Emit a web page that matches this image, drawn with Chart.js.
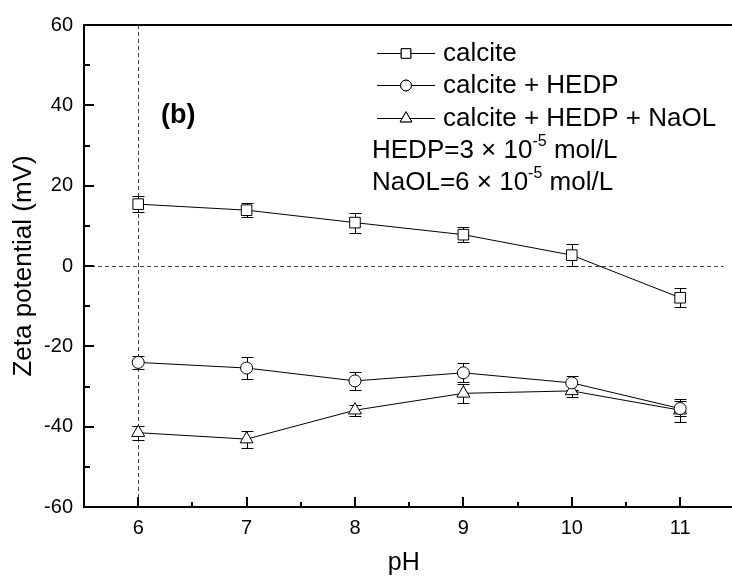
<!DOCTYPE html>
<html>
<head>
<meta charset="utf-8">
<title>Zeta potential vs pH</title>
<script src="https://cdn.jsdelivr.net/npm/chart.js@4.4.1/dist/chart.umd.min.js"></script>
<style>
  html, body { margin: 0; padding: 0; background: #fff; }
  canvas { display: block; }
</style>
</head>
<body>
<canvas id="zetaChart" width="732" height="579"></canvas>
<script>
// values
const phValues = [6, 7, 8, 9, 10, 11];
const calcite = [15.4, 13.9, 10.8, 7.8, 2.7, -7.9];
const calciteErr = [2.0, 1.7, 2.5, 1.8, 2.7, 2.4];
const calciteHedp = [-24.0, -25.4, -28.6, -26.6, -29.1, -35.5];
const calciteHedpErr = [1.7, 2.7, 2.3, 2.4, 1.7, 1.9];
const calciteHedpNaol = [-41.5, -43.1, -35.9, -31.7, -31.1, -35.9];
const calciteHedpNaolErr = [1.7, 2.1, 1.4, 2.3, 1.6, 2.9];

const seriesNames = ["calcite", "calcite + HEDP", "calcite + HEDP + NaOL"];
const pointShapes = ["rect", "circle", "triangle"];
const pointSizes = [7.5, 6, 7.5];
const phTicks = [6, 7, 8, 9, 10, 11];
const zetaTicks = [-60, -40, -20, 0, 20, 40, 60];

const FONT = "'Liberation Sans', Arial, Helvetica, sans-serif";
const errorSets = [calciteErr, calciteHedpErr, calciteHedpNaolErr];

function makeSet(name, values, i) {
  return {
    label: name,
    data: values.map((v, j) => ({ x: phValues[j], y: v })),
    showLine: true,
    borderColor: "#000",
    borderWidth: 1,
    pointStyle: pointShapes[i],
    pointRadius: pointSizes[i],
    pointHoverRadius: pointSizes[i],
    pointBackgroundColor: "#fff",
    pointBorderColor: "#000",
    pointBorderWidth: 1
  };
}

// dashed guides + error bars under the markers, frame/ticks/legend on top
const extras = {
  id: "extras",
  beforeDatasetsDraw(chart) {
    const { ctx, chartArea: a, scales: { x, y } } = chart;
    ctx.save();
    ctx.strokeStyle = "#444";
    ctx.lineWidth = 1;
    ctx.setLineDash([4, 3]);
    const y0 = Math.round(y.getPixelForValue(0)) + 0.5;
    const x6 = Math.round(x.getPixelForValue(phTicks[0])) + 0.5;
    ctx.beginPath();
    ctx.moveTo(a.left, y0); ctx.lineTo(a.right, y0);
    ctx.moveTo(x6, a.top); ctx.lineTo(x6, a.bottom);
    ctx.stroke();
    ctx.setLineDash([]);

    ctx.strokeStyle = "#000";
    chart.data.datasets.forEach((ds, i) => {
      const errs = errorSets[i];
      ds.data.forEach((p, j) => {
        const px = Math.round(x.getPixelForValue(p.x)) + 0.5;
        const top = Math.round(y.getPixelForValue(p.y + errs[j])) + 0.5;
        const bot = Math.round(y.getPixelForValue(p.y - errs[j])) + 0.5;
        ctx.beginPath();
        ctx.moveTo(px, top); ctx.lineTo(px, bot);
        ctx.moveTo(px - 6, top); ctx.lineTo(px + 6, top);
        ctx.moveTo(px - 6, bot); ctx.lineTo(px + 6, bot);
        ctx.stroke();
      });
    });
    ctx.restore();
  },
  afterDraw(chart) {
    const { ctx, chartArea: a, scales: { x, y } } = chart;
    ctx.save();
    ctx.strokeStyle = "#000";
    ctx.lineWidth = 2;
    ctx.beginPath();
    ctx.moveTo(chart.width, a.top); ctx.lineTo(a.left, a.top);
    ctx.lineTo(a.left, a.bottom); ctx.lineTo(chart.width, a.bottom);
    ctx.stroke();

    // inward ticks
    ctx.beginPath();
    for (let v = x.min; v <= x.max + 1e-9; v += 0.5) {
      const px = Math.round(x.getPixelForValue(v));
      if (px <= a.left + 1) continue;
      const len = Number.isInteger(v) ? 10 : 5;
      ctx.moveTo(px, a.bottom); ctx.lineTo(px, a.bottom - len);
    }
    for (let v = y.min; v <= y.max; v += 10) {
      const py = Math.round(y.getPixelForValue(v));
      const len = v % 20 === 0 ? 10 : 6;
      ctx.moveTo(a.left, py); ctx.lineTo(a.left + len, py);
    }
    ctx.stroke();

    // legend
    ctx.lineWidth = 1;
    ctx.fillStyle = "#000";
    ctx.font = "26px " + FONT;
    ctx.textBaseline = "middle";
    const rows = [53, 85, 118];
    chart.data.datasets.forEach((ds, i) => {
      const ry = rows[i] + 0.5;
      ctx.beginPath();
      ctx.moveTo(377, ry); ctx.lineTo(435, ry);
      ctx.stroke();
      ctx.fillStyle = "#fff";
      Chart.helpers.drawPoint(ctx, {
        pointStyle: ds.pointStyle, radius: ds.pointRadius * 0.9, rotation: 0, borderWidth: 1
      }, 406, ry);
      ctx.fill();
      ctx.stroke();
      ctx.fillStyle = "#000";
      ctx.fillText(ds.label, 443, rows[i] + 1);
    });

    // concentration notes with superscript exponent
    const notes = [["HEDP=3 \u00d7 10", "-5", " mol/L", 151], ["NaOL=6 \u00d7 10", "-5", " mol/L", 183]];
    notes.forEach(([a1, sup, a2, ny]) => {
      let tx = 372;
      ctx.font = "26px " + FONT;
      ctx.fillText(a1, tx, ny);
      tx += ctx.measureText(a1).width;
      ctx.font = "16px " + FONT;
      ctx.fillText(sup, tx, ny - 9);
      tx += ctx.measureText(sup).width;
      ctx.font = "26px " + FONT;
      ctx.fillText(a2, tx, ny);
    });

    ctx.font = "bold 27px " + FONT;
    ctx.fillText("(b)", 161, 116);
    ctx.restore();
  }
};

new Chart(document.getElementById("zetaChart"), {
  type: "scatter",
  data: {
    datasets: [
      makeSet(seriesNames[0], calcite, 0),
      makeSet(seriesNames[1], calciteHedp, 1),
      makeSet(seriesNames[2], calciteHedpNaol, 2)
    ]
  },
  options: {
    responsive: false,
    devicePixelRatio: 1,
    animation: false,
    layout: { padding: { top: 25, right: 0, left: 0, bottom: 0 } },
    plugins: { legend: { display: false }, tooltip: { enabled: false } },
    scales: {
      x: {
        type: "linear",
        min: 5.5,
        max: 11.4,
        afterBuildTicks: s => { s.ticks = phTicks.map(v => ({ value: v })); },
        afterFit: s => { s.height = 72; s.paddingLeft = 0; s.paddingRight = 0; },
        grid: { display: false, drawTicks: false },
        border: { display: false },
        ticks: { color: "#000", font: { family: FONT, size: 20 }, padding: 9, maxRotation: 0, autoSkip: false },
        title: { display: true, text: "pH", color: "#000", font: { family: FONT, size: 25 }, padding: { top: 0, bottom: 1 } }
      },
      y: {
        min: -60,
        max: 60,
        afterBuildTicks: s => { s.ticks = zetaTicks.map(v => ({ value: v })); },
        afterFit: s => { s.width = 84; },
        grid: { display: false, drawTicks: false },
        border: { display: false },
        ticks: { color: "#000", font: { family: FONT, size: 20 }, padding: 11 },
        title: { display: true, text: "Zeta potential (mV)", color: "#000", font: { family: FONT, size: 26 }, padding: { top: 8, bottom: 0 } }
      }
    }
  },
  plugins: [extras]
});
</script>
</body>
</html>
